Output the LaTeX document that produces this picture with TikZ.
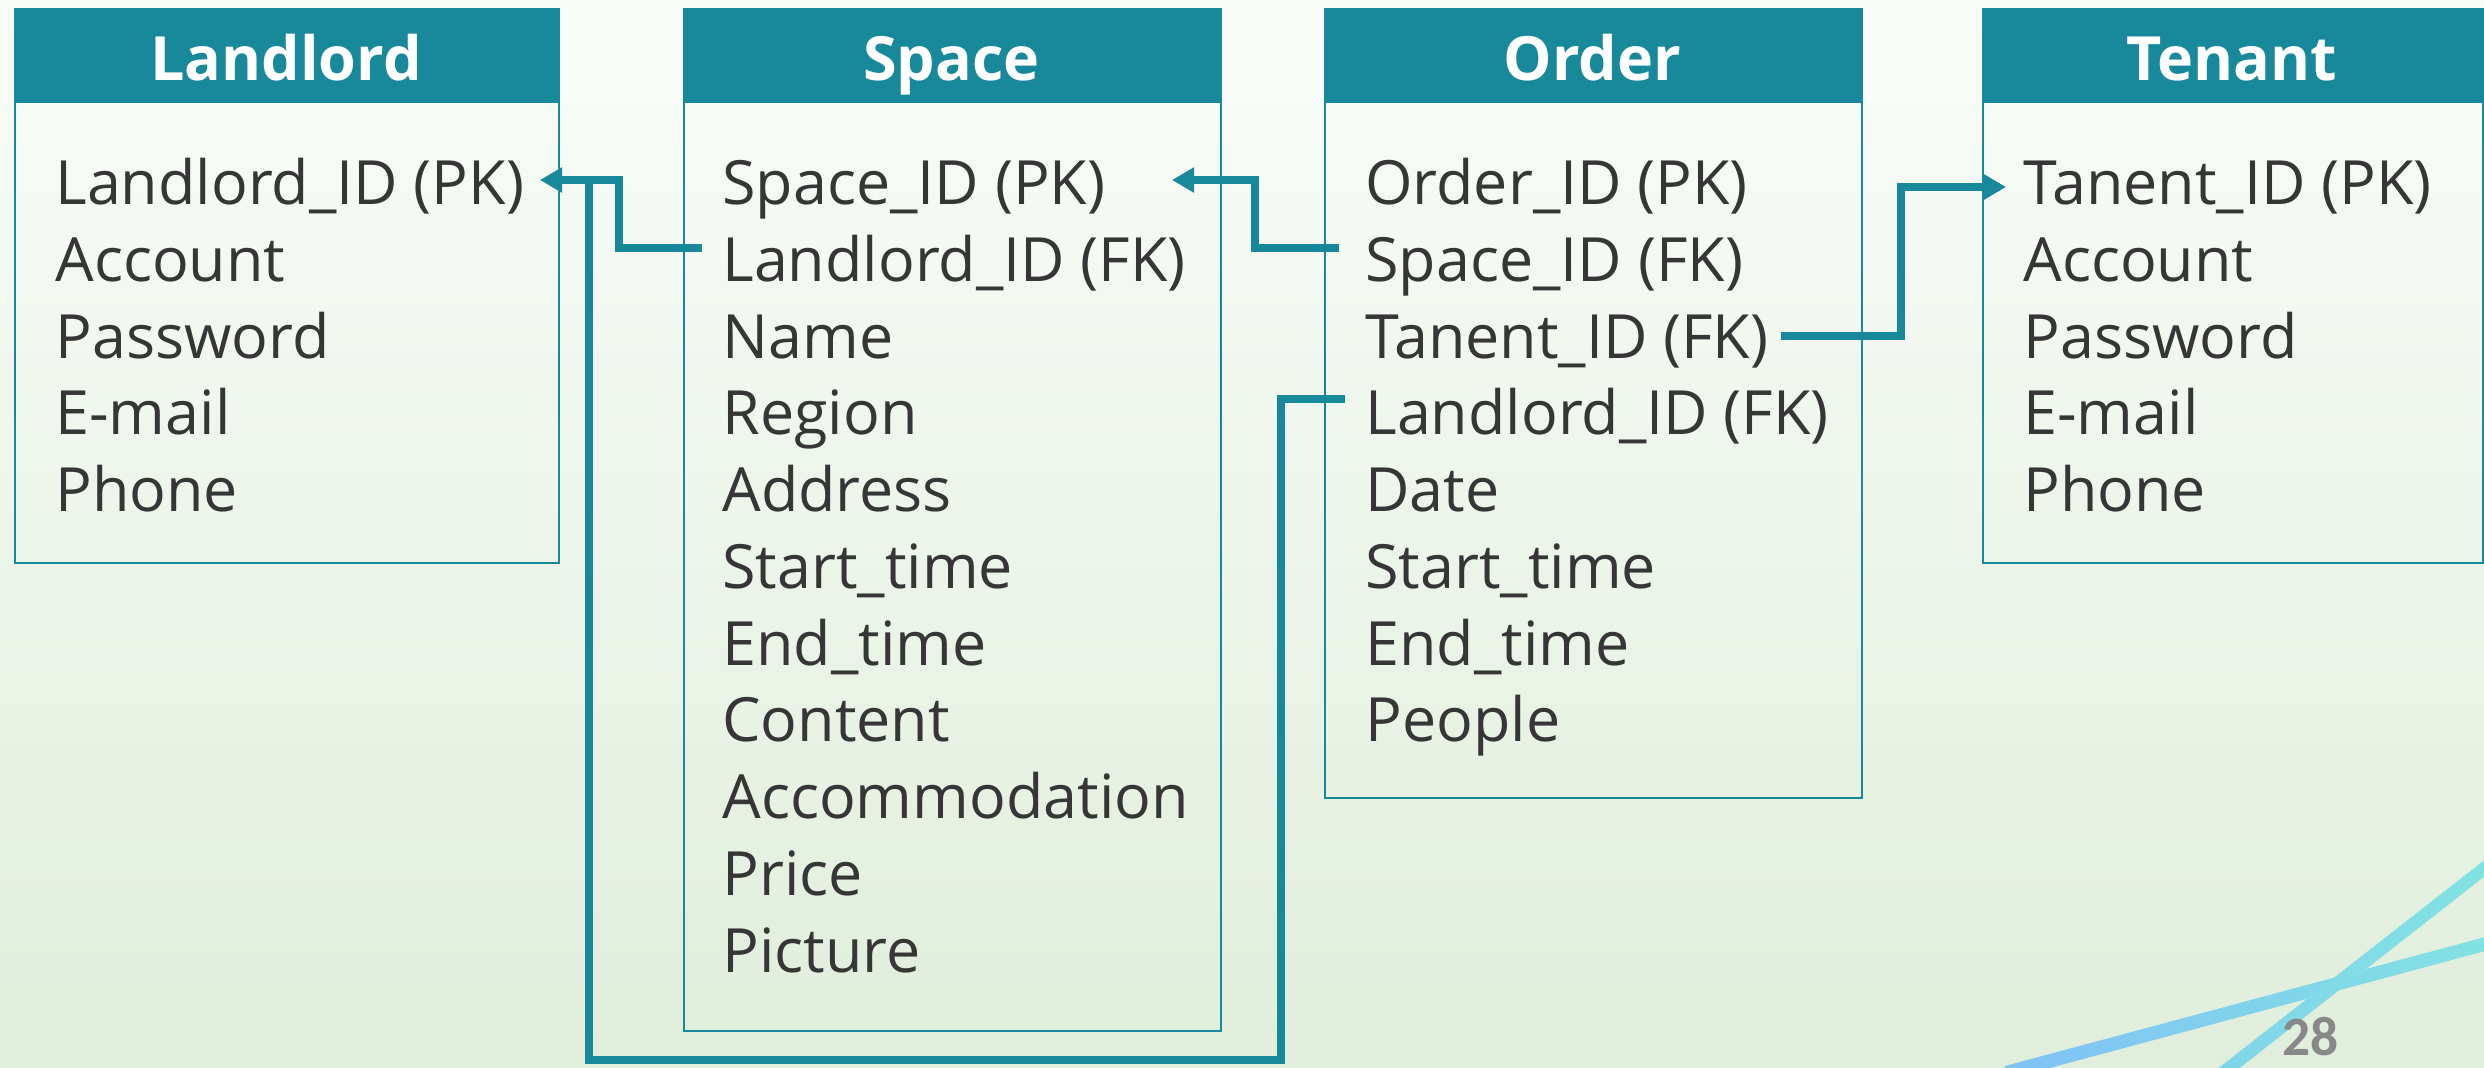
\documentclass[tikz,border=0pt]{standalone}
\usepackage{fontspec}
\setmainfont{Open Sans}
\newfontfamily\numfont{Carlito}
\usetikzlibrary{arrows.meta,calc}
\definecolor{teal1}{HTML}{17899A}
\definecolor{txt}{HTML}{363636}
\definecolor{bgtop}{HTML}{FAFCFA}
\definecolor{bgbot}{HTML}{E0EEDB}
\definecolor{decoA}{HTML}{80C2F6}
\definecolor{decoB}{HTML}{82E4E0}
\definecolor{decoC}{HTML}{80D4EA}
\definecolor{pgray}{HTML}{888888}
\tikzset{
  tbody/.style={draw=teal1, line width=1pt, anchor=north west, inner sep=0pt, fill=none},
  thead/.style={draw=teal1, fill=teal1, line width=1pt, anchor=north west, inner sep=0pt, minimum height=46.5pt},
  ttitle/.style={anchor=base, inner sep=0pt, text=white, font=\bfseries\fontsize{30.5}{36}\selectfont},
  row/.style={anchor=base west, inner sep=0pt, text=txt, font=\fontsize{30.5}{36}\selectfont},
  conn/.style={draw=teal1, line width=4pt, line join=miter},
  tip/.style={-{Triangle[length=11pt,width=12pt]}}
}
\begin{document}
\begin{tikzpicture}[x=0.5pt,y=-0.5pt]
\useasboundingbox (0,0) rectangle (2484,1067);
\shade[top color=bgtop, bottom color=bgbot] (0,0) rectangle (2484,1067);
% decorative lines
\begin{scope}
\clip (0,0) rectangle (2484,1067);
\shade[left color=decoA, right color=decoB] (2005,1066) -- (2515,929) -- (2515,943) -- (2005,1080) -- cycle;
\shade[left color=decoC, right color=decoB] (2193,1088) -- (2510,840) -- (2531,840) -- (2214,1088) -- cycle;
\end{scope}
% boxes
\node[tbody, minimum width=272pt, minimum height=277pt] (land) at (14,8) {};
\node[thead, minimum width=272pt] (landH) at (14,8) {};
\node[ttitle] (landT) at (286,80) {Landlord};
\node[tbody, minimum width=268.5pt, minimum height=511pt] (space) at (683,8) {};
\node[thead, minimum width=268.5pt] (spaceH) at (683,8) {};
\node[ttitle] (spaceT) at (951.5,80) {Space};
\node[tbody, minimum width=268.5pt, minimum height=394.5pt] (order) at (1324,8) {};
\node[thead, minimum width=268.5pt] (orderH) at (1324,8) {};
\node[ttitle] (orderT) at (1592.5,80) {Order};
\node[tbody, minimum width=250pt, minimum height=277pt] (tenant) at (1982,8) {};
\node[thead, minimum width=250pt] (tenantH) at (1982,8) {};
\node[ttitle] (tenantT) at (2232,80) {Tenant};
% Landlord rows
\node[row] (L1) at (55,204) {Landlord\_ID (PK)};
\node[row] (L2) at (55,281) {Account};
\node[row] (L3) at (55,358) {Password};
\node[row] (L4) at (55,434) {E-mail};
\node[row] (L5) at (55,511) {Phone};
% Space rows
\node[row] (S1) at (722,204) {Space\_ID (PK)};
\node[row] (S2) at (722,281) {Landlord\_ID (FK)};
\node[row] (S3) at (722,358) {Name};
\node[row] (S4) at (722,434) {Region};
\node[row] (S5) at (722,511) {Address};
\node[row] (S6) at (722,588) {Start\_time};
\node[row] (S7) at (722,665) {End\_time};
\node[row] (S8) at (722,741) {Content};
\node[row] (S9) at (722,818) {Accommodation};
\node[row] (S10) at (722,895) {Price};
\node[row] (S11) at (722,972) {Picture};
% Order rows
\node[row] (O1) at (1365,204) {Order\_ID (PK)};
\node[row] (O2) at (1365,281) {Space\_ID (FK)};
\node[row] (O3) at (1365,358) {Tanent\_ID (FK)};
\node[row] (O4) at (1365,434) {Landlord\_ID (FK)};
\node[row] (O5) at (1365,511) {Date};
\node[row] (O6) at (1365,588) {Start\_time};
\node[row] (O7) at (1365,665) {End\_time};
\node[row] (O8) at (1365,741) {People};
% Tenant rows
\node[row] (T1) at (2023,204) {Tanent\_ID (PK)};
\node[row] (T2) at (2023,281) {Account};
\node[row] (T3) at (2023,358) {Password};
\node[row] (T4) at (2023,434) {E-mail};
\node[row] (T5) at (2023,511) {Phone};
% connectors
\coordinate (jn) at ($(land.east |- L1.base)+(29,-24)$);
\draw[conn,tip] ($(S2.base west)+(-20,-33)$) -- ++(-83,0) |- ($(land.east |- L1.base)+(-20,-24)$);
\draw[conn] ($(O4.base west)+(-20,-35)$) -- ++(-64,0) -- ++(0,661) -| (jn);
\draw[conn,tip] ($(O2.base west)+(-26,-33)$) -- ++(-84,0) |- ($(space.east |- S1.base)+(-50,-24)$);
\draw[conn,tip] ($(O3.base east)+(12,-22)$) -- ($(order.east |- O3.base)+(38,-22)$) |- ($(tenant.west |- T1.base)+(24,-17)$);
% page number
\node[anchor=base west, inner sep=0pt, text=pgray, font=\numfont\bfseries\fontsize{27.7}{30}\selectfont] (pg) at (2282,1055) {28};
\end{tikzpicture}
\end{document}
